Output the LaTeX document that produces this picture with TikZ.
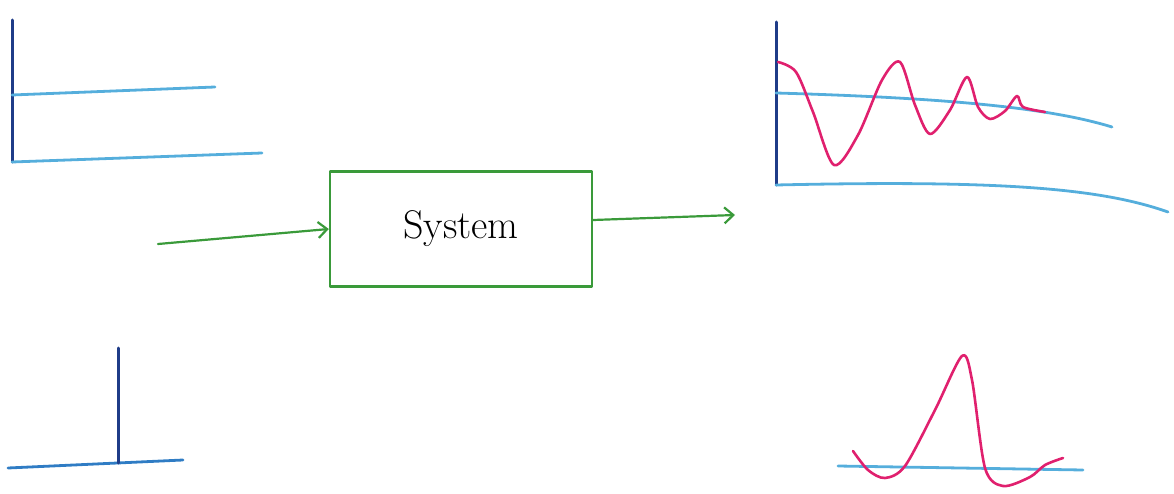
\documentclass[tikz,border=0pt]{standalone}
\usetikzlibrary{arrows.meta}
\definecolor{sgAxis}{HTML}{1F3C88}
\definecolor{sgLevel}{HTML}{55AEDC}
\definecolor{sgBase}{HTML}{2F7CC4}
\definecolor{sgResp}{HTML}{E0206E}
\definecolor{sgFlow}{HTML}{3A9A3A}

\begin{document}
\begin{tikzpicture}[x=1pt,y=-1pt,
                    line cap=round,line join=round,
                    axis/.style={draw=sgAxis,line width=3pt},
                    level/.style={draw=sgLevel,line width=2.8pt},
                    resp/.style={draw=sgResp,line width=2.6pt},
                    flow/.style={draw=sgFlow,line width=2.2pt,
                                 -{Straight Barb[length=9pt,width=16pt]}},
                    block/.style={draw=sgFlow,line width=2.4pt,minimum width=262pt,
                                  minimum height=115pt,font=\fontsize{40pt}{44pt}\selectfont}]
  \useasboundingbox (0,0) rectangle (1174,494);
  % step input
  \draw[axis] (12,20) -- (12,162);
  \draw[level] (12,162) -- (262,153);
  \draw[level] (12,95) -- (215,87);
  % impulse input
  \draw[draw=sgBase,line width=2.8pt] (8,468) -- (183,460);
  \draw[axis] (118,348) -- (118,463);
  % the system
  \node[block] (sys) at (461,229) {System};
  \coordinate (in) at (158,244);
  \coordinate (out) at (735,215);
  \draw[flow] (in) -- (sys.west);
  \draw[flow] ([yshift=9pt]sys.east) -- (out);
  % step response
  \draw[axis] (776,22) -- (776,185);
  \draw[level] (776,185) .. controls (1000,180) and (1100,188) .. (1168,212);
  \draw[level] (776,93) .. controls (950,98) and (1050,108) .. (1112,127);
  \draw[resp] plot[smooth] coordinates {(778,62) (796,72) (813,112) (834,165)
    (858,135) (882,80) (900,62) (915,105) (930,134) (950,110) (967,77) (978,107)
    (990,119) (1005,111) (1017,96) (1023,107) (1045,112)};
  % impulse response
  \draw[level] (838,466) -- (1083,470);
  \draw[resp] plot[smooth] coordinates {(853,451) (868,470) (885,478)
    (905,466) (935,410) (962,356) (972,380) (985,468) (1003,486) (1030,477)
    (1045,465) (1063,458)};
\end{tikzpicture}
\end{document}
